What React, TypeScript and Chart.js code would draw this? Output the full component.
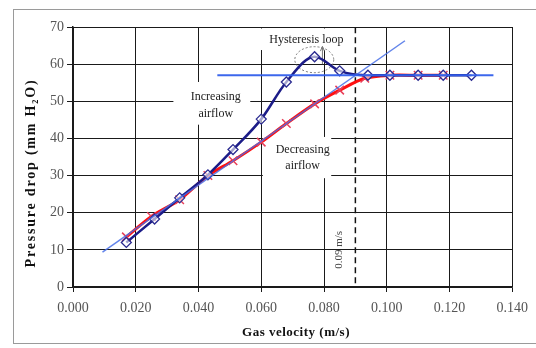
import React, { useEffect, useRef } from "react";
import { Chart, registerables } from "chart.js";

Chart.register(...registerables);

// Gas velocity (m/s) and pressure drop (mm H2O)
const incVelocity = [0.017, 0.026, 0.034, 0.043, 0.051, 0.06, 0.068, 0.077, 0.085, 0.094, 0.101, 0.11, 0.118, 0.127];
const incPressure = [12, 18.3, 24, 30.2, 37, 45.2, 55.2, 62, 58.2, 57, 57, 57, 57, 57];
const decVelocity = [0.017, 0.025, 0.034, 0.043, 0.051, 0.06, 0.068, 0.077, 0.085, 0.093, 0.101, 0.11, 0.118];
const decPressure = [13.5, 19, 23.5, 30, 34, 39, 44, 49.3, 53, 56.2, 57, 57, 57];
const fitSlopeX = [0.0094, 0.1058];
const fitSlopeY = [9.4, 66.3];
const plateauX = [0.046, 0.134];
const plateauY = [57, 57];
const breakX = [0.09, 0.09];
const breakY = [1, 70];
const xTicks = [0, 0.02, 0.04, 0.06, 0.08, 0.1, 0.12, 0.14];
const yTicks = [0, 10, 20, 30, 40, 50, 60, 70];

const pts = (xs: number[], ys: number[]) => xs.map((x, i) => ({ x, y: ys[i] }));

const SERIF = "'Liberation Serif', 'DejaVu Serif', serif";

const annotations = {
  id: "annotations",
  beforeDatasetsDraw(chart: any) {
    const { ctx, scales } = chart;
    const X = (v: number) => scales.x.getPixelForValue(v);
    const Y = (v: number) => scales.y.getPixelForValue(v);
    ctx.save();
    ctx.fillStyle = "#ffffff";
    const box = (x0: number, x1: number, y0: number, y1: number) =>
      ctx.fillRect(X(x0), Y(y0), X(x1) - X(x0), Y(y1) - Y(y0));
    box(0.032, 0.0565, 55.2, 43.7);
    box(0.0605, 0.0823, 40.4, 29.3);
    box(0.0593, 0.0854, 69.6, 63.8);
    ctx.fillStyle = "#222";
    ctx.font = `12px ${SERIF}`;
    ctx.textAlign = "center";
    ctx.textBaseline = "middle";
    ctx.fillText("Increasing", X(0.0455), Y(51.3));
    ctx.fillText("airflow", X(0.0455), Y(46.6));
    ctx.fillText("Decreasing", X(0.0732), Y(36.9));
    ctx.fillText("airflow", X(0.0732), Y(32.6));
    ctx.fillText("Hysteresis loop", X(0.0744), Y(66.6));
    ctx.strokeStyle = "#777";
    ctx.lineWidth = 1;
    ctx.setLineDash([2, 2]);
    ctx.beginPath();
    const cx = X(0.0769), cy = Y(61.2);
    const rx = X(0.0769 + 0.0062) - cx, ry = cy - Y(61.2 + 3.5);
    ctx.ellipse(cx, cy, rx, ry, 0, 0, Math.PI * 2);
    ctx.stroke();
    ctx.setLineDash([]);
    ctx.beginPath();
    ctx.moveTo(X(0.0795), Y(60));
    ctx.lineTo(X(0.0795), Y(64.5));
    ctx.stroke();
    ctx.beginPath();
    ctx.moveTo(X(0.0795) - 2, Y(63.5));
    ctx.lineTo(X(0.0795), Y(64.8));
    ctx.lineTo(X(0.0795) + 2, Y(63.5));
    ctx.stroke();
    ctx.fillStyle = "#444";
    ctx.font = `11px ${SERIF}`;
    ctx.translate(X(0.0848), Y(10));
    ctx.rotate(-Math.PI / 2);
    ctx.fillText("0.09 m/s", 0, 0);
    ctx.restore();
  },
  afterDraw(chart: any) {
    const { ctx } = chart;
    ctx.save();
    ctx.strokeStyle = "#9a9a9a";
    ctx.lineWidth = 1;
    ctx.strokeRect(13.5, 9.5, 540, 334);
    ctx.fillStyle = "#111";
    ctx.font = `bold 13px ${SERIF}`;
    ctx.textAlign = "center";
    ctx.textBaseline = "middle";
    (ctx as any).letterSpacing = "0.5px";
    ctx.fillText("Gas velocity (m/s)", 296, 333);
    ctx.translate(31, 173);
    ctx.rotate(-Math.PI / 2);
    ctx.font = `bold 14px ${SERIF}`;
    (ctx as any).letterSpacing = "1.8px";
    ctx.fillText("Pressure drop (mm H\u2082O)", 0, 0);
    ctx.restore();
  },
};

export default function App() {
  const ref = useRef<HTMLCanvasElement>(null);
  useEffect(() => {
    document.body.style.margin = "0";
    const chart = new Chart(ref.current!, {
      type: "scatter",
      data: {
        datasets: [
          {
            label: "Slope fit",
            data: pts(fitSlopeX, fitSlopeY),
            showLine: true,
            borderColor: "rgba(70,110,230,0.85)",
            borderWidth: 1.5,
            pointRadius: 0,
            order: 1,
          },
          {
            label: "Plateau",
            data: pts(plateauX, plateauY),
            showLine: true,
            borderColor: "rgba(50,95,235,0.95)",
            borderWidth: 2,
            pointRadius: 0,
            order: 0,
          },
          {
            label: "Increasing airflow",
            data: pts(incVelocity, incPressure),
            showLine: true,
            cubicInterpolationMode: "monotone",
            borderColor: "#1c1c88",
            borderWidth: 2.5,
            pointStyle: "rectRot",
            pointRadius: 5,
            pointBorderWidth: 1.3,
            pointBorderColor: "#2a2a90",
            pointBackgroundColor: "rgba(255,255,255,0.6)",
            order: 2,
          },
          {
            label: "Decreasing airflow",
            data: pts(decVelocity, decPressure),
            showLine: true,
            tension: 0.3,
            borderColor: "#ff1010",
            borderWidth: 3,
            pointStyle: "crossRot",
            pointRadius: 6,
            pointBorderWidth: 1.5,
            pointBorderColor: "#e8405a",
            order: 3,
          },
          {
            label: "0.09 m/s",
            data: pts(breakX, breakY),
            showLine: true,
            borderColor: "#111",
            borderWidth: 1.5,
            borderDash: [6, 4],
            pointRadius: 0,
            order: 4,
          },
        ],
      },
      options: {
        animation: false,
        responsive: false,
        layout: { padding: { left: 0, top: 27, right: 17, bottom: 0 } },
        plugins: { legend: { display: false }, tooltip: { enabled: false } },
        scales: {
          x: {
            type: "linear",
            min: 0,
            max: 0.14,
            afterBuildTicks: (s: any) => { s.ticks = xTicks.map((v) => ({ value: v })); },
            afterFit: (s: any) => { s.height = 61; },
            grid: { color: "#1a1a1a", lineWidth: 1, tickLength: 5 },
            border: { color: "#1a1a1a", width: 1.5 },
            ticks: {
              padding: 8,
              color: "#555",
              font: { family: SERIF, size: 14 },
              maxRotation: 0,
              callback: (v: any) => Number(v).toFixed(3),
            },
          },
          y: {
            type: "linear",
            min: 0,
            max: 70,
            afterBuildTicks: (s: any) => { s.ticks = yTicks.map((v) => ({ value: v })); },
            afterFit: (s: any) => { s.width = 73; },
            grid: { color: "#1a1a1a", lineWidth: 1, tickLength: 6 },
            border: { color: "#1a1a1a", width: 1.5 },
            ticks: {
              padding: 3,
              color: "#555",
              font: { family: SERIF, size: 14 },
            },
          },
        },
      },
      plugins: [annotations],
    } as any);
    return () => chart.destroy();
  }, []);
  return (
    <div style={{ position: "fixed", left: 0, top: 0, width: 536, height: 348, background: "#fff" }}>
      <canvas ref={ref} width={536} height={348} />
    </div>
  );
}
